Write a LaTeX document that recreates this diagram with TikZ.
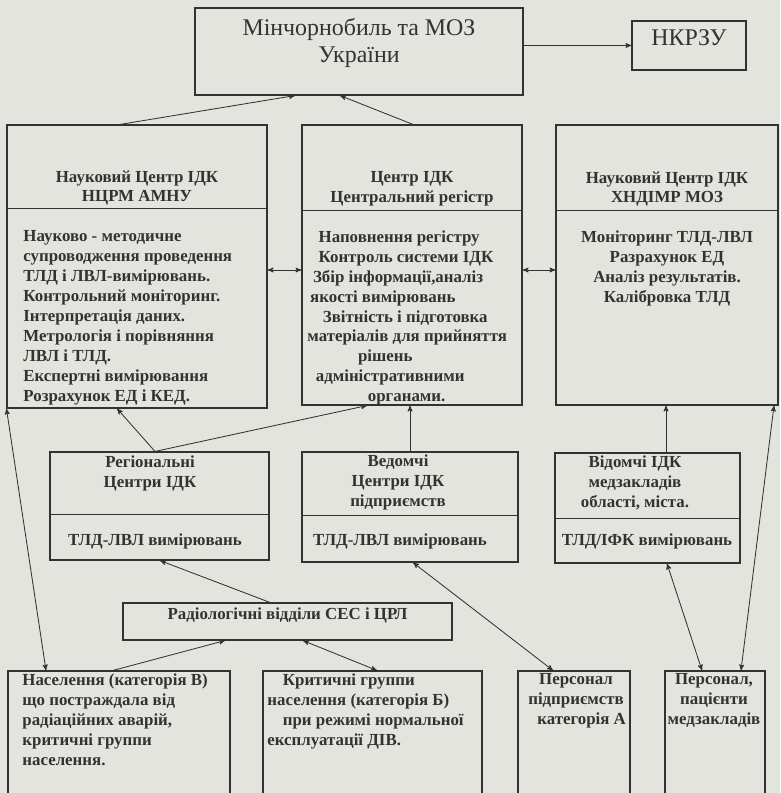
\documentclass[tikz,border=0pt]{standalone}
\usepackage{fontspec}
\setmainfont{Liberation Serif}
\usepackage{tikz}
\usetikzlibrary{positioning}
\usetikzlibrary{arrows}
\usetikzlibrary{fit,calc}
\definecolor{ink}{RGB}{50,50,50}
\definecolor{paper}{RGB}{228,228,222}
\tikzset{box/.style={draw,thick,inner sep=0pt},
  txt/.style={font=\bfseries\fontsize{12}{14.2}\selectfont,align=left,inner sep=0pt},
  head/.style={txt,align=center},
  big/.style={font=\fontsize{17}{19}\selectfont,align=center},}

\begin{document}
\begin{tikzpicture}[x=0.025cm, y=-0.025cm, >=stealth', semithick, color=ink]
	\fill[paper] (0,0) rectangle (780,793);
	\useasboundingbox (0,0) rectangle (780,793);

	% top row
	\node[box, big, fit={(195,8) (523,95)}] (moz) {Мінчорнобиль та МОЗ\\України};
	\node[box, big, fit={(632,21) (746,70)}] (nkr) {НКРЗУ};

	% scientific centres
	\node[box, fit={(7,125) (267,408)}] (nc) {};
	\node[head] at (137,188) {Науковий Центр ІДК\\НЦРМ АМНУ};
	\draw (nc.west |- 0,208) -- (nc.east |- 0,208);
	\node[txt, anchor=north west] at (23,230) {Науково - методичне\\супроводження проведення\\ТЛД і ЛВЛ-вимірювань.\\Контрольний моніторинг.\\Інтерпретація даних.\\Метрологія і порівняння\\ЛВЛ і ТЛД.\\Експертні вимірювання\\Розрахунок ЕД і КЕД.};

	\node[box, fit={(302,125) (522,405)}] (ct) {};
	\node[head] at (412,189) {Центр ІДК\\Центральний регістр};
	\draw (ct.west |- 0,210) -- (ct.east |- 0,210);
	\node[txt, anchor=north west] at (307,230) {\hspace*{8pt}Наповнення регістру\\\hspace*{8pt}Контроль системи ІДК\\\hspace*{4pt}Збір інформації,аналіз\\\hspace*{2pt}якості вимірювань\\\hspace*{11pt}Звітність і підготовка\\матеріалів для прийняття\\\hspace*{36pt}рішень\\\hspace*{6pt}адміністративними\\\hspace*{43pt}органами.};

	\node[box, fit={(556,125) (778,405)}] (kh) {};
	\node[head] at (667,189) {Науковий Центр ІДК\\ХНДІМР МОЗ};
	\draw (kh.west |- 0,210) -- (kh.east |- 0,210);
	\node[head, anchor=north] at (667,230) {Моніторинг ТЛД-ЛВЛ\\Разрахунок ЕД\\Аналіз результатів.\\Калібровка ТЛД};

	% regional level
	\node[box, fit={(50,452) (269,560)}] (rg) {};
	\node[head] at (150,473) {Регіональні\\Центри ІДК};
	\draw (rg.west |- 0,514) -- (rg.east |- 0,514);
	\node[txt] at (155,541) {ТЛД-ЛВЛ вимірювань};

	\node[box, fit={(302,452) (518,562)}] (vp) {};
	\node[head] at (398,482) {Ведомчі\\Центри ІДК\\підприємств};
	\draw (vp.west |- 0,515) -- (vp.east |- 0,515);
	\node[txt] at (400,541) {ТЛД-ЛВЛ вимірювань};

	\node[box, fit={(555,453) (740,563)}] (vm) {};
	\node[head] at (635,483) {Відомчі ІДК\\медзакладів\\області, міста.};
	\draw (vm.west |- 0,518) -- (vm.east |- 0,518);
	\node[txt] at (647,541) {ТЛД/ІФК вимірювань};

	\node[box, txt, fit={(123,603) (452,640)}] (rd) {Радіологічні відділи СЕС і ЦРЛ};

	% bottom row
	\node[box, fit={(8,671) (230,800)}] (nb) {};
	\node[txt, anchor=north west] at (22,673) {Населення (категорія В)\\що постраждала від\\радіаційних аварій,\\критичні группи\\населення.};
	\node[box, fit={(263,671) (482,800)}] (kg) {};
	\node[txt, anchor=north west] at (267,673) {\hspace*{11pt}Критичні группи\\населення (категорія Б)\\\hspace*{11pt}при режимі нормальної\\експлуатації ДІВ.};
	\node[box, fit={(518,671) (630,800)}] (pp) {};
	\node[head, anchor=north] at (576,673) {Персонал\\підприємств\\\hspace*{8pt}категорія А};
	\node[box, fit={(665,671) (765,800)}] (pm) {};
	\node[head, anchor=north] at (714,673) {Персонал,\\пацієнти\\медзакладів};

	% connectors
	\draw[->] (moz.east |- nkr.west) -- (nkr.west);
	\draw[->] (120,0 |- nc.north) -- (295,0 |- moz.south);
	\draw[->] (413,0 |- ct.north) -- (340,0 |- moz.south);
	\draw[<->] (nc.east |- 0,270) -- (ct.west |- 0,270);
	\draw[<->] (ct.east |- 0,270) -- (kh.west |- 0,270);
	\draw[->] (155,0 |- rg.north) -- (117,0 |- nc.south);
	\draw[->] (155,0 |- rg.north) -- (367,0 |- ct.south);
	\draw[->] (vp.north) -- (vp.north |- ct.south);
	\draw[->] (666,0 |- vm.north) -- (666,0 |- kh.south);
	\draw[<->] (774,0 |- kh.south) -- (741,0 |- pm.north);
	\draw[<->] (nc.south west) -- (46,0 |- nb.north);
	\draw[->] (270,0 |- rd.north) -- (160,0 |- rg.south);
	\draw[<->] (413,0 |- vp.south) -- (553,0 |- pp.north);
	\draw[<->] (667,0 |- vm.south) -- (702,0 |- pm.north);
	\draw[->] (113,0 |- nb.north) -- (225,0 |- rd.south);
	\draw[<->] (303,0 |- rd.south) -- (377,0 |- kg.north);
\end{tikzpicture}
\end{document}
